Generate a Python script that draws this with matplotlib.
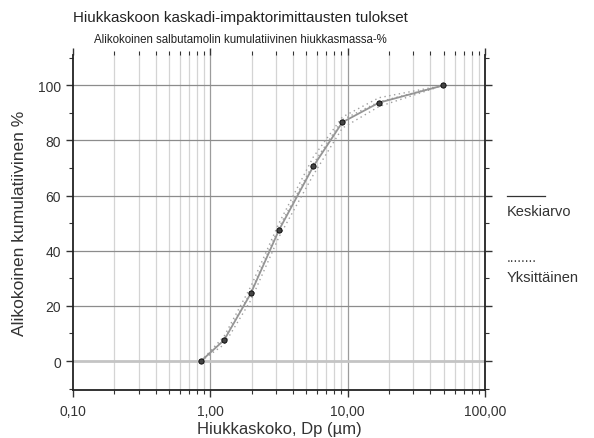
import matplotlib.pyplot as plt
from matplotlib.ticker import FixedLocator, FuncFormatter, MultipleLocator, LogLocator, NullFormatter
from matplotlib.lines import Line2D

plt.rcParams['font.family'] = ['Liberation Sans', 'DejaVu Sans']

# hiukkaskoko (µm) ja kumulatiivinen massa-%
koko = [0.855, 1.26, 1.97, 3.16, 5.62, 9.15, 16.9, 49.8]
keskiarvo = [0, 7.6, 24.5, 47.5, 70.6, 86.6, 93.7, 100]
yksittainen_1 = [0, 9.0, 27.0, 50.0, 74.0, 88.5, 95.5, 100]
yksittainen_2 = [0, 6.0, 22.0, 45.0, 67.5, 84.5, 92.3, 100]
yksittainen_3 = [0, 8.0, 25.0, 48.5, 71.5, 87.5, 94.0, 100]
xtick_vals = [0.1, 1, 10, 100]
xtick_labels = ['0,10', '1,00', '10,00', '100,00']

fig = plt.figure(figsize=(5.94, 4.39), dpi=100)
ax = fig.add_axes([73 / 594, 1 - 391 / 439, 412 / 594, 335 / 439])

ax.set_xscale('log')
ax.set_xlim(0.1, 100)
ax.set_ylim(-10.5, 111)

# ruudukko
for v in [2, 3, 4, 5, 6, 7, 8, 9]:
    for d in [0.1, 1, 10]:
        ax.axvline(v * d, color='#d4d4d4', lw=0.9, zorder=0)
for v in [1, 10]:
    ax.axvline(v, color='#9c9c9c', lw=0.9, zorder=0)
for v in [20, 40, 60, 80, 100]:
    ax.axhline(v, color='#8c8c8c', lw=0.9, zorder=0)
ax.axhline(0, color='#c4c4c4', lw=2.0, zorder=0)

for ys in [yksittainen_1, yksittainen_2, yksittainen_3]:
    ax.plot(koko, ys, color='#a0a0a0', lw=1.0, ls=(0, (1, 2.5)), zorder=2)
ax.plot(koko, keskiarvo, color='#959595', lw=1.3, marker='o', ms=3.8,
        mfc='#444444', mec='#000000', mew=0.6, zorder=3)

ax.xaxis.set_major_locator(FixedLocator(xtick_vals))
ax.xaxis.set_major_formatter(FuncFormatter(lambda v, p: xtick_labels[xtick_vals.index(v)] if v in xtick_vals else ''))
ax.xaxis.set_minor_locator(LogLocator(base=10, subs=range(2, 10)))
ax.xaxis.set_minor_formatter(NullFormatter())
ax.yaxis.set_major_locator(MultipleLocator(20))
ax.yaxis.set_minor_locator(MultipleLocator(10))

ax.spines['top'].set_visible(False)
for s in ['left', 'right', 'bottom']:
    ax.spines[s].set_linewidth(1.3)
    ax.spines[s].set_color('#222222')

ax.tick_params(axis='both', which='major', direction='out', length=5, width=1.0,
               labelsize=10, color='#333333', labelcolor='#333333')
ax.tick_params(axis='both', which='minor', direction='out', length=3, width=0.8, color='#333333')
ax.tick_params(axis='x', which='both', top=True)
ax.tick_params(axis='y', which='both', right=True)
ax.tick_params(axis='x', pad=5)

ax.set_xlabel('Hiukkaskoko, Dp (µm)', fontsize=12, color='#333333', labelpad=2)
ax.set_ylabel('Alikokoinen kumulatiivinen %', fontsize=12.5, color='#333333', labelpad=8)

fig.text(240 / 594, 1 - 18 / 439, 'Hiukkaskoon kaskadi-impaktorimittausten tulokset',
         ha='center', va='center', fontsize=10.9, color='#222222')
fig.text(240 / 594, 1 - 40 / 439, 'Alikokoinen salbutamolin kumulatiivinen hiukkasmassa-%',
         ha='center', va='center', fontsize=8.3, color='#222222')

# selite
fig.add_artist(Line2D([507 / 594, 545 / 594], [1 - 197 / 439, 1 - 197 / 439],
                      color='#333333', lw=0.9))
fig.text(507 / 594, 1 - 212 / 439, 'Keskiarvo', ha='left', va='center', fontsize=10.5, color='#333333')
fig.text(507 / 594, 1 - 258 / 439, '........', ha='left', va='center', fontsize=10, color='#444444')
fig.text(507 / 594, 1 - 278 / 439, 'Yksittäinen', ha='left', va='center', fontsize=10.5, color='#333333')

fig.savefig('out.png', dpi=100)
